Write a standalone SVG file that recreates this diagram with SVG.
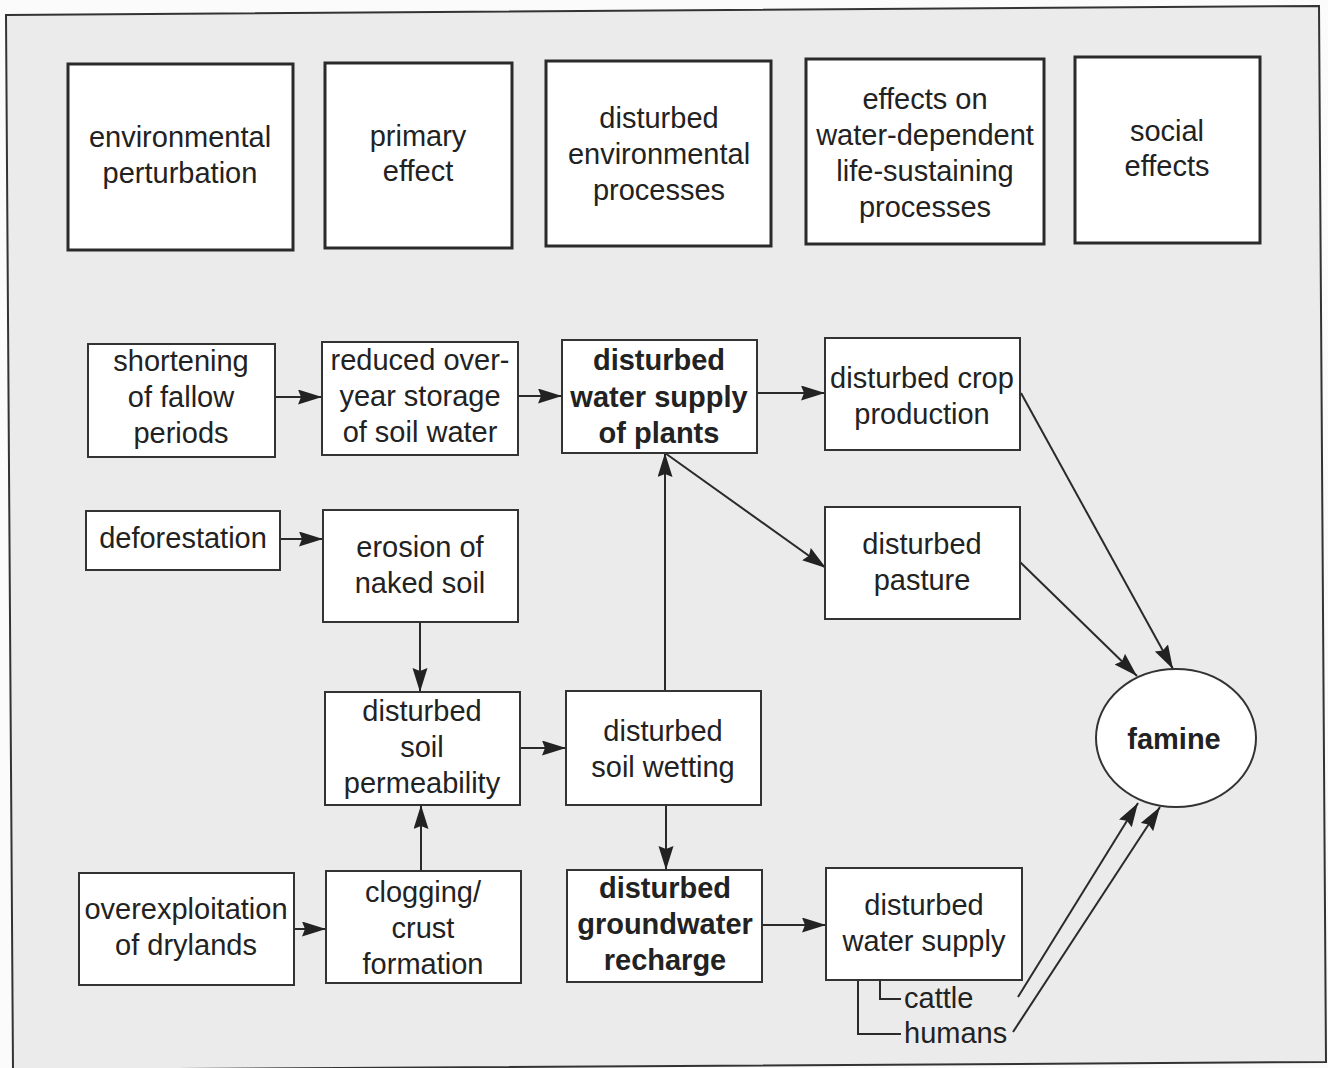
<svg xmlns="http://www.w3.org/2000/svg" width="1328" height="1068" viewBox="0 0 1328 1068">
  <defs>
    <marker id="arrow" markerUnits="userSpaceOnUse" markerWidth="26" markerHeight="16" refX="24" refY="7.5" orient="auto">
      <path d="M0,0 L24,7.5 L0,15 L3,7.5 Z" fill="#222"/>
    </marker>
    <style>
      text { font-family: "Liberation Sans", Arial, Helvetica, sans-serif; font-size: 29px; fill: #222; text-anchor: middle; }
      .b { font-weight: bold; }
      .l { text-anchor: start; }
      .head rect { fill: #fff; stroke: #2a2a2a; stroke-width: 3; }
      .node rect, .node ellipse { fill: #fff; stroke: #333; stroke-width: 2; }
      .edge { fill: none; stroke: #2a2a2a; stroke-width: 2; marker-end: url(#arrow); }
      .plain { fill: none; stroke: #2a2a2a; stroke-width: 2; }
    </style>
  </defs>

  <!-- page and panel frame -->
  <rect x="0" y="0" width="1328" height="1068" fill="#fbfbfb"/>
  <polygon points="6,15 1319,6 1326,1062 13,1070" fill="#ebebeb" stroke="#333" stroke-width="2"/>

  <!-- column headings -->
  <g id="h-perturbation" class="head">
    <rect x="68" y="64" width="225" height="186"/>
    <text x="180" y="147">environmental</text>
    <text x="180" y="183">perturbation</text>
  </g>
  <g id="h-primary" class="head">
    <rect x="325" y="63" width="187" height="185"/>
    <text x="418" y="146">primary</text>
    <text x="418" y="181">effect</text>
  </g>
  <g id="h-processes" class="head">
    <rect x="546" y="61" width="225" height="185"/>
    <text x="659" y="128">disturbed</text>
    <text x="659" y="164">environmental</text>
    <text x="659" y="200">processes</text>
  </g>
  <g id="h-life" class="head">
    <rect x="806" y="59" width="238" height="185"/>
    <text x="925" y="109">effects on</text>
    <text x="925" y="145">water-dependent</text>
    <text x="925" y="181">life-sustaining</text>
    <text x="925" y="217">processes</text>
  </g>
  <g id="h-social" class="head">
    <rect x="1075" y="57" width="185" height="186"/>
    <text x="1167" y="141">social</text>
    <text x="1167" y="176">effects</text>
  </g>

  <!-- connectors -->
  <g id="connectors">
    <line class="edge" x1="275" y1="397" x2="322" y2="397"/>
    <line class="edge" x1="518" y1="396" x2="562" y2="396"/>
    <line class="edge" x1="757" y1="393" x2="825" y2="393"/>
    <line class="edge" x1="280" y1="539" x2="323" y2="539"/>
    <line class="edge" x1="665" y1="453" x2="826" y2="568"/>
    <line class="edge" x1="665" y1="691" x2="665" y2="453"/>
    <line class="edge" x1="420" y1="622" x2="420" y2="692"/>
    <line class="edge" x1="421" y1="871" x2="421" y2="805"/>
    <line class="edge" x1="520" y1="748" x2="566" y2="748"/>
    <line class="edge" x1="666" y1="805" x2="666" y2="870"/>
    <line class="edge" x1="294" y1="929" x2="326" y2="929"/>
    <line class="edge" x1="762" y1="925" x2="826" y2="925"/>
    <line class="edge" x1="1021" y1="393" x2="1173" y2="669"/>
    <line class="edge" x1="1020" y1="562" x2="1137" y2="676"/>
    <line class="edge" x1="1018" y1="997" x2="1138" y2="803"/>
    <line class="edge" x1="1013" y1="1032" x2="1160" y2="807"/>
    <polyline class="plain" points="858,981 858,1034 901,1034"/>
    <polyline class="plain" points="880,981 880,999 901,999"/>
  </g>

  <!-- causal chain nodes -->
  <g id="n-fallow" class="node">
    <rect x="88" y="344" width="187" height="113"/>
    <text x="181" y="371">shortening</text>
    <text x="181" y="407">of fallow</text>
    <text x="181" y="443">periods</text>
  </g>
  <g id="n-storage" class="node">
    <rect x="322" y="342" width="196" height="113"/>
    <text x="420" y="370">reduced over-</text>
    <text x="420" y="406">year storage</text>
    <text x="420" y="442">of soil water</text>
  </g>
  <g id="n-plants" class="node">
    <rect x="562" y="340" width="195" height="113"/>
    <text class="b" x="659" y="370">disturbed</text>
    <text class="b" x="659" y="407">water supply</text>
    <text class="b" x="659" y="443">of plants</text>
  </g>
  <g id="n-crop" class="node">
    <rect x="825" y="338" width="195" height="112"/>
    <text x="922" y="388">disturbed crop</text>
    <text x="922" y="424">production</text>
  </g>
  <g id="n-deforestation" class="node">
    <rect x="86" y="511" width="194" height="59"/>
    <text x="183" y="548">deforestation</text>
  </g>
  <g id="n-erosion" class="node">
    <rect x="323" y="510" width="195" height="112"/>
    <text x="420" y="557">erosion of</text>
    <text x="420" y="593">naked soil</text>
  </g>
  <g id="n-pasture" class="node">
    <rect x="825" y="507" width="195" height="112"/>
    <text x="922" y="554">disturbed</text>
    <text x="922" y="590">pasture</text>
  </g>
  <g id="n-famine" class="node">
    <ellipse cx="1176" cy="738" rx="80" ry="69"/>
    <text class="b" x="1174" y="749">famine</text>
  </g>
  <g id="n-permeability" class="node">
    <rect x="325" y="692" width="195" height="113"/>
    <text x="422" y="721">disturbed</text>
    <text x="422" y="757">soil</text>
    <text x="422" y="793">permeability</text>
  </g>
  <g id="n-wetting" class="node">
    <rect x="566" y="691" width="195" height="114"/>
    <text x="663" y="741">disturbed</text>
    <text x="663" y="777">soil wetting</text>
  </g>
  <g id="n-drylands" class="node">
    <rect x="79" y="873" width="215" height="112"/>
    <text x="186" y="919">overexploitation</text>
    <text x="186" y="955">of drylands</text>
  </g>
  <g id="n-clogging" class="node">
    <rect x="326" y="871" width="195" height="112"/>
    <text x="423" y="902">clogging/</text>
    <text x="423" y="938">crust</text>
    <text x="423" y="974">formation</text>
  </g>
  <g id="n-groundwater" class="node">
    <rect x="567" y="870" width="195" height="112"/>
    <text class="b" x="665" y="898">disturbed</text>
    <text class="b" x="665" y="934">groundwater</text>
    <text class="b" x="665" y="970">recharge</text>
  </g>
  <g id="n-watersupply" class="node">
    <rect x="826" y="868" width="196" height="112"/>
    <text x="924" y="915">disturbed</text>
    <text x="924" y="951">water supply</text>
  </g>
  <g id="n-users">
    <text class="l" x="904" y="1008">cattle</text>
    <text class="l" x="904" y="1043">humans</text>
  </g>
</svg>
